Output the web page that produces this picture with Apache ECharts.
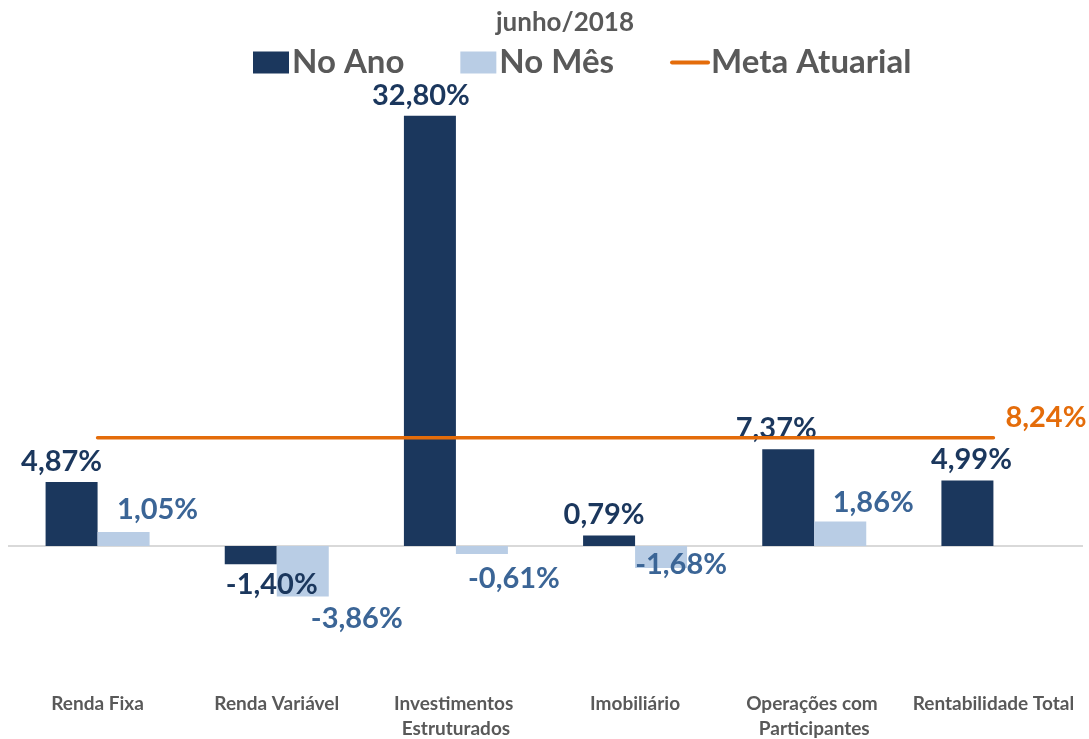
<!DOCTYPE html>
<html>
<head>
<meta charset="utf-8">
<script src="https://cdn.jsdelivr.net/npm/echarts@6/dist/echarts.min.js"></script>
<style>
html,body{margin:0;padding:0;background:#fff;}
#chart{width:1089px;height:739px;}
</style>
</head>
<body>
<div id="chart"></div>
<script>
var titleText = 'junho/2018';
var categories = ['Renda Fixa', 'Renda Variável', 'Investimentos Estruturados', 'Imobiliário', 'Operações com Participantes', 'Rentabilidade Total'];
var seriesNames = ['No Ano', 'No Mês', 'Meta Atuarial'];
var noAno = [4.87, -1.40, 32.80, 0.79, 7.37, 4.99];
var noMes = [1.05, -3.86, -0.61, -1.68, 1.86, null];
var metaAtuarial = [8.24, 8.24, 8.24, 8.24, 8.24, 8.24];

// label nudges (style only)
var anoLabelOffsets = [[-10,0],[21,0],[-9,0],[-5,0],[-12,0],[4,0]];
var mesLabelOffsets = [[34,-2],[54,2],[32,4],[20,-24],[33,2],[0,0]];

var FONT = 'Lato';
var DARK = '#1b375d';
var LIGHT = '#b9cde5';
var LIGHT_TXT = '#3b6596';
var ORANGE = '#e46c0a';
var GRAY = '#595959';

function fmt(v){ return v.toFixed(2).replace('.', ',') + '%'; }

function barItems(vals, offsets, color){
  return vals.map(function(v, i){
    if (v === null) return null;
    return {
      value: v,
      label: {
        show: true,
        position: v >= 0 ? 'top' : 'bottom',
        distance: 6,
        offset: offsets[i],
        formatter: function(p){ return fmt(p.value); },
        color: color,
        fontFamily: FONT,
        fontWeight: 'bold',
        fontSize: 29
      }
    };
  });
}

var chart = echarts.init(document.getElementById('chart'));
chart.setOption({
  animation: false,
  backgroundColor: '#fff',
  title: {
    text: titleText,
    left: 560,
    textAlign: 'center',
    top: 5,
    textStyle: {fontFamily: FONT, fontWeight: 'bold', fontSize: 26, color: GRAY}
  },
  legend: {
    data: [
      {name: seriesNames[0], icon: 'rect'},
      {name: seriesNames[1], icon: 'rect'},
      {name: seriesNames[2], itemStyle: {opacity: 0}, lineStyle: {width: 4}}
    ],
    left: 248,
    top: 41,
    itemWidth: 36,
    itemHeight: 22,
    itemGap: 56,
    textStyle: {fontFamily: FONT, fontWeight: 'bold', fontSize: 33, color: GRAY, padding: [0,0,0,-2]}
  },
  grid: {left: 8, right: 6, top: 87, bottom: 62, outerBoundsMode: 'none', containLabel: false},
  xAxis: {
    type: 'category',
    data: categories,
    axisLine: {show: false},
    axisTick: {show: false},
    axisLabel: {
      interval: 0,
      margin: 14,
      width: 178,
      overflow: 'break',
      lineHeight: 25,
      fontFamily: FONT,
      fontWeight: 'bold',
      fontSize: 19,
      color: GRAY
    }
  },
  yAxis: {
    type: 'value',
    min: -10,
    max: 35,
    show: false,
    splitLine: {show: false}
  },
  series: [
    {
      name: seriesNames[0],
      type: 'bar',
      data: barItems(noAno, anoLabelOffsets, DARK),
      barWidth: 52,
      barGap: '0%',
      itemStyle: {color: DARK},
      z: 3,
      markLine: {
        silent: true,
        symbol: 'none',
        label: {show: false},
        lineStyle: {color: '#d9d9d9', width: 2, type: 'solid'},
        data: [{yAxis: 0}],
        z: 1
      }
    },
    {
      name: seriesNames[1],
      type: 'bar',
      data: barItems(noMes, mesLabelOffsets, LIGHT_TXT),
      barWidth: 52,
      barGap: '0%',
      itemStyle: {color: LIGHT},
      z: 3
    },
    {
      name: seriesNames[2],
      type: 'line',
      data: metaAtuarial,
      symbol: 'none',
      clip: false,
      lineStyle: {color: ORANGE, width: 3.5, cap: 'round'},
      itemStyle: {color: ORANGE},
      endLabel: {
        show: true,
        distance: 12,
        offset: [0, -20],
        formatter: function(p){ return fmt(p.value); },
        color: ORANGE,
        fontFamily: FONT,
        fontWeight: 'bold',
        fontSize: 29
      },
      z: 5
    }
  ]
});
</script>
</body>
</html>
